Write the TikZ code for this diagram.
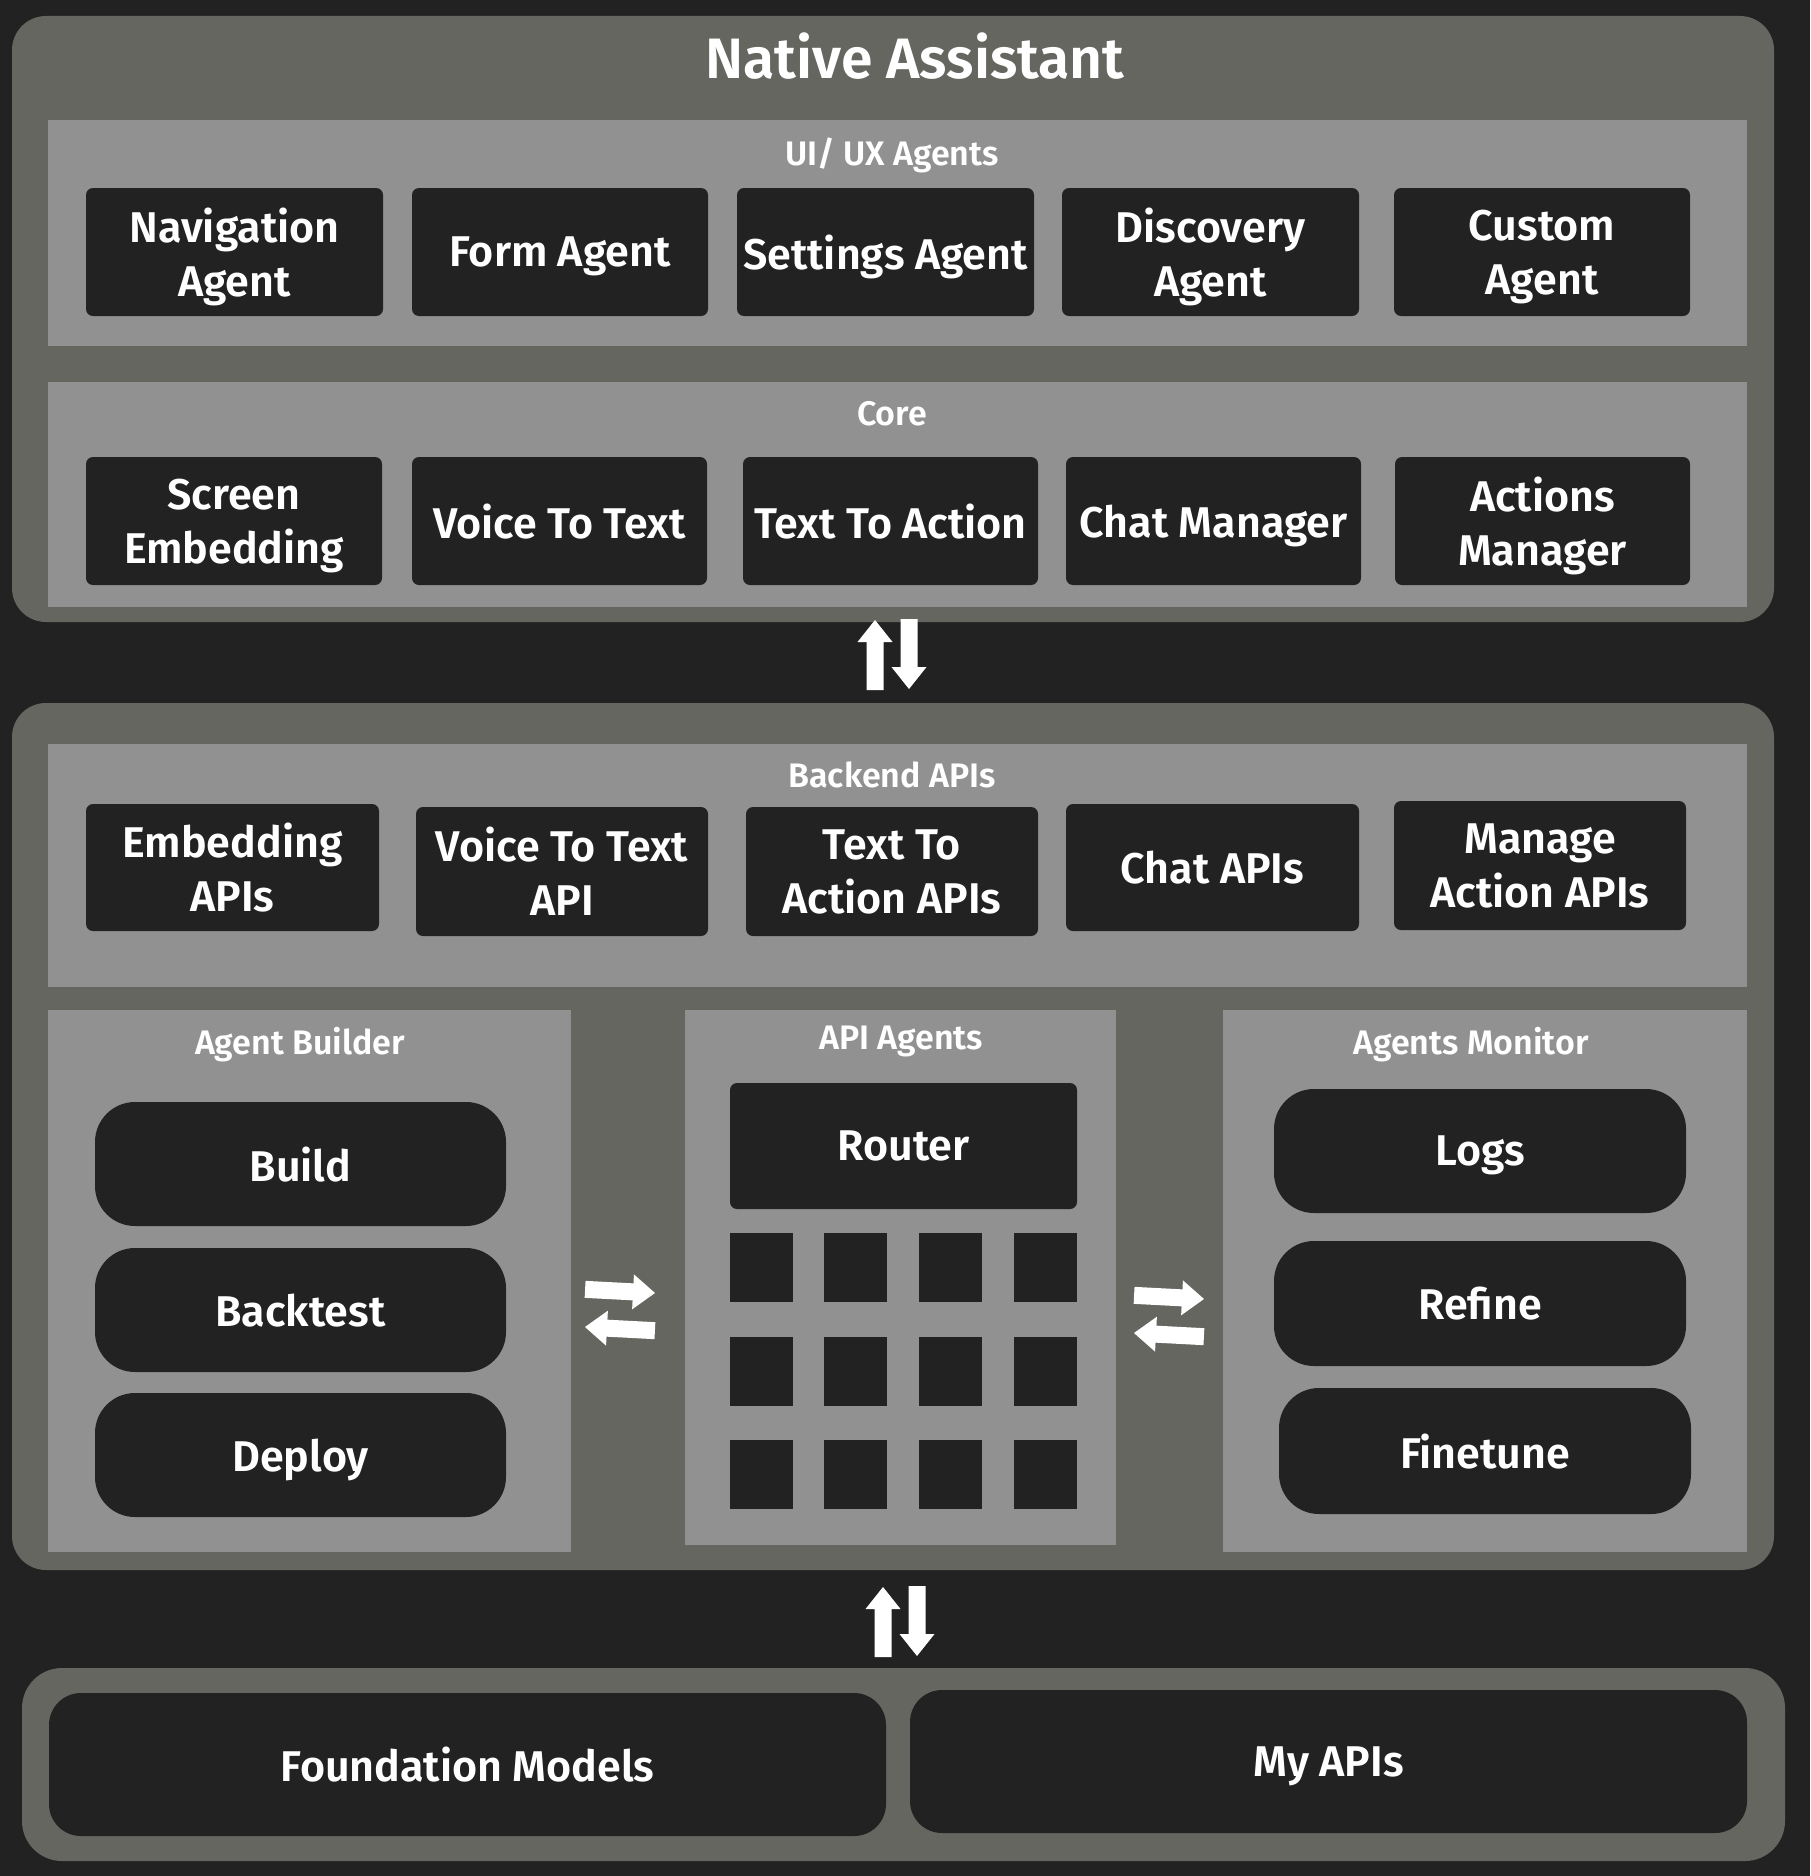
\documentclass[tikz,border=0pt]{standalone}
\usepackage{fontspec}
\setmainfont{Fira Sans}[BoldFont={Fira Sans SemiBold}]
\definecolor{bg}{HTML}{222222}
\definecolor{shell}{HTML}{65665F}
\definecolor{panel}{HTML}{919191}
\definecolor{tile}{HTML}{222222}

\tikzset{
  shellbox/.style={fill=shell, rounded corners=34pt, inner sep=0pt, outer sep=0pt, anchor=north west},
  panelbox/.style={fill=panel, inner sep=0pt, outer sep=0pt, anchor=north west},
  panellabel/.style={text=white, font=\fontsize{34}{40}\selectfont\bfseries, inner sep=0pt, anchor=base},
  titlelabel/.style={text=white, font=\fontsize{57}{66}\selectfont\bfseries, inner sep=0pt, anchor=base},
  agentbox/.style={fill=tile, rounded corners=7pt, text=white, align=center, text depth=0pt,
    font=\fontsize{43}{54}\selectfont\bfseries, inner sep=0pt, outer sep=0pt, anchor=north west},
  pillbox/.style={agentbox, rounded corners=40pt},
  basebox/.style={agentbox, rounded corners=32pt},
  cell/.style={fill=tile, inner sep=0pt, outer sep=0pt, anchor=north west,
    minimum width=63pt, minimum height=69pt},
  wh/.style 2 args={minimum width=#1pt, minimum height=#2pt},
  fatarrow/.pic={\fill[white] (0,0) -- (17.5,22) -- (8.5,22) -- (8.5,70)
    -- (-8.5,70) -- (-8.5,22) -- (-17.5,22) -- cycle;}
}

\begin{document}
\begin{tikzpicture}[x=1pt,y=-1pt]
  % canvas
  \fill[bg] (0,0) rectangle (1810,1876);
  \useasboundingbox (0,0) rectangle (1810,1876);

  % ---------- front end ----------
  \node[shellbox, wh={1762}{606}] (front) at (12,16) {};
  \node[titlelabel] (title) at (915,78) {Native Assistant};

  \node[panelbox, wh={1699}{226}] (ui) at (48,120) {};
  \node[panellabel] (uilabel) at (892,165) {UI/ UX Agents};
  \node[agentbox, wh={297}{128}] (nav)       at (86,188)   {Navigation\\Agent};
  \node[agentbox, wh={296}{128}] (form)      at (412,188)  {Form Agent};
  \node[agentbox, wh={297}{128}] (settings)  at (737,188)  {Settings Agent};
  \node[agentbox, wh={297}{128}] (discovery) at (1062,188) {Discovery\\Agent};
  \node[agentbox, wh={296}{128}] (custom)    at (1394,188) {Custom\\Agent};

  \node[panelbox, wh={1699}{225}] (core) at (48,382) {};
  \node[panellabel] (corelabel) at (892,425) {Core};
  \node[agentbox, wh={296}{128}] (screen)  at (86,457)   {Screen\\Embedding};
  \node[agentbox, wh={295}{128}] (vtt)     at (412,457)  {Voice To Text};
  \node[agentbox, wh={295}{128}] (tta)     at (743,457)  {Text To Action};
  \node[agentbox, wh={295}{128}] (chat)    at (1066,457) {Chat Manager};
  \node[agentbox, wh={295}{128}] (actions) at (1395,457) {Actions\\Manager};

  % exchange between front end and back end
  \pic at (875,620) {fatarrow};
  \pic[rotate=180] at (909,689) {fatarrow};

  % ---------- back end ----------
  \node[shellbox, wh={1762}{867}] (back) at (12,703) {};

  \node[panelbox, wh={1699}{243}] (backend) at (48,744) {};
  \node[panellabel] (backendlabel) at (892,787) {Backend APIs};
  \node[agentbox, wh={293}{127}] (embapi)    at (86,804)   {Embedding\\APIs};
  \node[agentbox, wh={292}{129}] (vttapi)    at (416,807)  {Voice To Text\\API};
  \node[agentbox, wh={292}{129}] (ttaapi)    at (746,807)  {Text To\\Action APIs};
  \node[agentbox, wh={293}{127}] (chatapi)   at (1066,804) {Chat APIs};
  \node[agentbox, wh={292}{129}] (manageapi) at (1394,801) {Manage\\Action APIs};

  % agent builder
  \node[panelbox, wh={523}{542}] (builder) at (48,1010) {};
  \node[panellabel] (builderlabel) at (300,1054) {Agent Builder};
  \node[pillbox, wh={411}{124}] (build)    at (95,1102) {Build};
  \node[pillbox, wh={411}{124}] (backtest) at (95,1248) {Backtest};
  \node[pillbox, wh={411}{124}] (deploy)   at (95,1393) {Deploy};

  % api agents
  \node[panelbox, wh={431}{535}] (apiagents) at (685,1010) {};
  \node[panellabel] (apilabel) at (901,1049) {API Agents};
  \node[agentbox, wh={347}{126}] (router) at (730,1083) {Router};
  \foreach \cx [count=\i] in {730,824,919,1014}
    \foreach \cy [count=\j] in {1233,1337,1440}
      \node[cell] (g\j\i) at (\cx,\cy) {};

  % agents monitor
  \node[panelbox, wh={524}{542}] (monitor) at (1223,1010) {};
  \node[panellabel] (monitorlabel) at (1471,1054) {Agents Monitor};
  \node[pillbox, wh={412}{124}] (logs)     at (1274,1089) {Logs};
  \node[pillbox, wh={412}{125}] (refine)   at (1274,1241) {Refine};
  \node[pillbox, wh={412}{126}] (finetune) at (1279,1388) {Finetune};

  % exchanges around the api agents
  \pic[rotate=-93] at (655,1293) {fatarrow};
  \pic[rotate=87]  at (585,1327) {fatarrow};
  \pic[rotate=-93] at (1204,1299) {fatarrow};
  \pic[rotate=87]  at (1134,1333) {fatarrow};

  % exchange between back end and models
  \pic at (883,1587) {fatarrow};
  \pic[rotate=180] at (917,1656) {fatarrow};

  % ---------- models and apis ----------
  \node[shellbox, rounded corners=40pt, wh={1763}{193}] (base) at (22,1668) {};
  \node[basebox, wh={837}{143}] (foundation) at (49,1693)  {Foundation Models};
  \node[basebox, wh={837}{143}] (myapis)     at (910,1690) {My APIs};
\end{tikzpicture}
\end{document}
